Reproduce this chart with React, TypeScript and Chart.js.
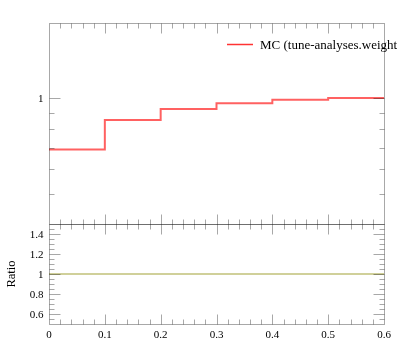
import React, { useEffect, useRef } from "react";
import { Chart, registerables } from "chart.js";

Chart.register(...registerables);

// ---- data ----
const binEdges = [0, 0.1, 0.2, 0.3, 0.4, 0.5, 0.6];
const mcValues = [0.69, 0.854, 0.924, 0.963, 0.988, 1.0];
const ratioValues = [1, 1, 1, 1, 1, 1];
const seriesLabel = "MC (tune-analyses.weight";
const xTickLabels = ["0", "0.1", "0.2", "0.3", "0.4", "0.5", "0.6"];
const xTickValues = [0, 0.1, 0.2, 0.3, 0.4, 0.5, 0.6];
const mainMajorTicks = [1];
const mainMajorLabels = ["1"];
const mainMinorTicks = [0.5, 0.6, 0.7, 0.8, 0.9];
const ratioMajorTicks = [0.6, 0.8, 1, 1.2, 1.4];
const ratioMajorLabels = ["0.6", "0.8", "1", "1.2", "1.4"];
const ratioMinorTicks = [0.55, 0.65, 0.7, 0.75, 0.85, 0.9, 0.95, 1.05, 1.1, 1.15, 1.25, 1.3, 1.35, 1.45];
const xMinorTicks = [0.02, 0.04, 0.06, 0.08, 0.12, 0.14, 0.16, 0.18, 0.22, 0.24, 0.26, 0.28, 0.32, 0.34, 0.36, 0.38, 0.42, 0.44, 0.46, 0.48, 0.52, 0.54, 0.56, 0.58];
const xMajorInner = [0.1, 0.2, 0.3, 0.4, 0.5];

function stepPoints(edges: number[], vals: number[]) {
  return edges.map((e, i) => ({ x: e, y: vals[Math.min(i, vals.length - 1)] }));
}

const FONT = "'Liberation Serif', 'DejaVu Serif', serif";
const FRAME = "rgba(0,0,0,0.34)";

const framePlugin = {
  id: "framePlugin",
  afterDatasetsDraw(chart: any) {
    const ctx = chart.ctx;
    const x = chart.scales.x;
    const y = chart.scales.y;
    const yr = chart.scales.yr;
    const L = Math.round(x.left) + 0.5;
    const R = Math.round(x.right) + 0.5;
    const mT = Math.round(y.top) + 0.5;
    const mB = Math.round(y.bottom) + 0.5;
    const rT = Math.round(yr.top) + 0.5;
    const rB = Math.round(yr.bottom) + 0.5;
    const px = (v: number) => Math.round(x.getPixelForValue(v)) + 0.5;
    const py = (s: any, v: number) => Math.round(s.getPixelForValue(v)) + 0.5;

    ctx.save();
    ctx.strokeStyle = FRAME;
    ctx.lineWidth = 1;
    const line = (x1: number, y1: number, x2: number, y2: number) => {
      ctx.beginPath();
      ctx.moveTo(x1, y1);
      ctx.lineTo(x2, y2);
      ctx.stroke();
    };
    ctx.strokeRect(L, mT, R - L, mB - mT);
    ctx.strokeRect(L, rT, R - L, rB - rT);

    const xt = (v: number, len: number) => {
      const X = px(v);
      line(X, mT, X, mT + len);
      line(X, mB, X, mB - len);
      line(X, rT, X, rT + len);
      line(X, rB, X, rB - len);
    };
    xMajorInner.forEach((v) => xt(v, 10));
    xMinorTicks.forEach((v) => xt(v, 5));

    const yt = (s: any, v: number, len: number) => {
      const Y = py(s, v);
      line(L, Y, L + len, Y);
      line(R, Y, R - len, Y);
    };
    mainMajorTicks.forEach((v) => yt(y, v, 11));
    mainMinorTicks.forEach((v) => yt(y, v, 5));
    ratioMajorTicks.forEach((v) => yt(yr, v, 11));
    ratioMinorTicks.forEach((v) => yt(yr, v, 5));

    ctx.fillStyle = "#000";
    ctx.font = `11px ${FONT}`;
    ctx.textAlign = "center";
    ctx.textBaseline = "middle";
    xTickValues.forEach((v, i) => {
      ctx.fillText(xTickLabels[i], x.getPixelForValue(v), rB + 11);
    });
    ctx.textAlign = "right";
    mainMajorTicks.forEach((v, i) => {
      ctx.fillText(mainMajorLabels[i], L - 6, y.getPixelForValue(v) + 1);
    });
    ratioMajorTicks.forEach((v, i) => {
      ctx.fillText(ratioMajorLabels[i], L - 6, yr.getPixelForValue(v) + 1);
    });

    ctx.save();
    ctx.translate(12, (yr.top + yr.bottom) / 2);
    ctx.rotate(-Math.PI / 2);
    ctx.textAlign = "center";
    ctx.textBaseline = "middle";
    ctx.font = `12.5px ${FONT}`;
    ctx.fillText("Ratio", 0, 0);
    ctx.restore();

    const ds = chart.data.datasets[0];
    ctx.strokeStyle = "rgba(255,0,0,0.8)";
    ctx.lineWidth = 1.5;
    line(227, 44.5, 253, 44.5);
    ctx.fillStyle = "#000";
    ctx.textAlign = "left";
    ctx.textBaseline = "alphabetic";
    ctx.font = `13px ${FONT}`;
    ctx.fillText(ds.label, 260, 48.5);
    ctx.restore();
  },
};

export default function App() {
  const ref = useRef<HTMLCanvasElement | null>(null);
  useEffect(() => {
    if (!ref.current) return;
    const chart = new Chart(ref.current, {
      type: "line",
      data: {
        datasets: [
          {
            label: seriesLabel,
            data: stepPoints(binEdges, mcValues),
            stepped: "before",
            borderColor: "rgba(255,0,0,0.62)",
            borderWidth: 2,
            pointRadius: 0,
            fill: false,
            yAxisID: "y",
            xAxisID: "x",
          },
          {
            label: "ratio",
            data: stepPoints(binEdges, ratioValues),
            stepped: "before",
            borderColor: "rgba(150,150,30,0.6)",
            borderWidth: 1.5,
            pointRadius: 0,
            fill: false,
            yAxisID: "yr",
            xAxisID: "x",
          },
        ],
      },
      options: {
        responsive: false,
        animation: false,
        devicePixelRatio: 1,
        parsing: false,
        layout: { padding: { left: 49, top: 23, right: 13, bottom: 34 } },
        plugins: { legend: { display: false }, tooltip: { enabled: false } },
        scales: {
          x: { type: "linear", min: 0, max: 0.6, display: false },
          y: {
            type: "logarithmic",
            min: 0.404,
            max: 1.716,
            bounds: "data",
            display: false,
            stack: "panels",
            stackWeight: 201,
            weight: 2,
          },
          yr: {
            type: "linear",
            min: 0.5,
            max: 1.5,
            display: false,
            position: "left",
            stack: "panels",
            stackWeight: 100,
            weight: 1,
          },
        },
      } as any,
      plugins: [framePlugin],
    });
    return () => chart.destroy();
  }, []);
  return (
    <div style={{ position: "fixed", left: 0, top: 0, width: 397, height: 358, background: "#fff" }}>
      <canvas ref={ref} width={397} height={358} style={{ display: "block" }} />
    </div>
  );
}
